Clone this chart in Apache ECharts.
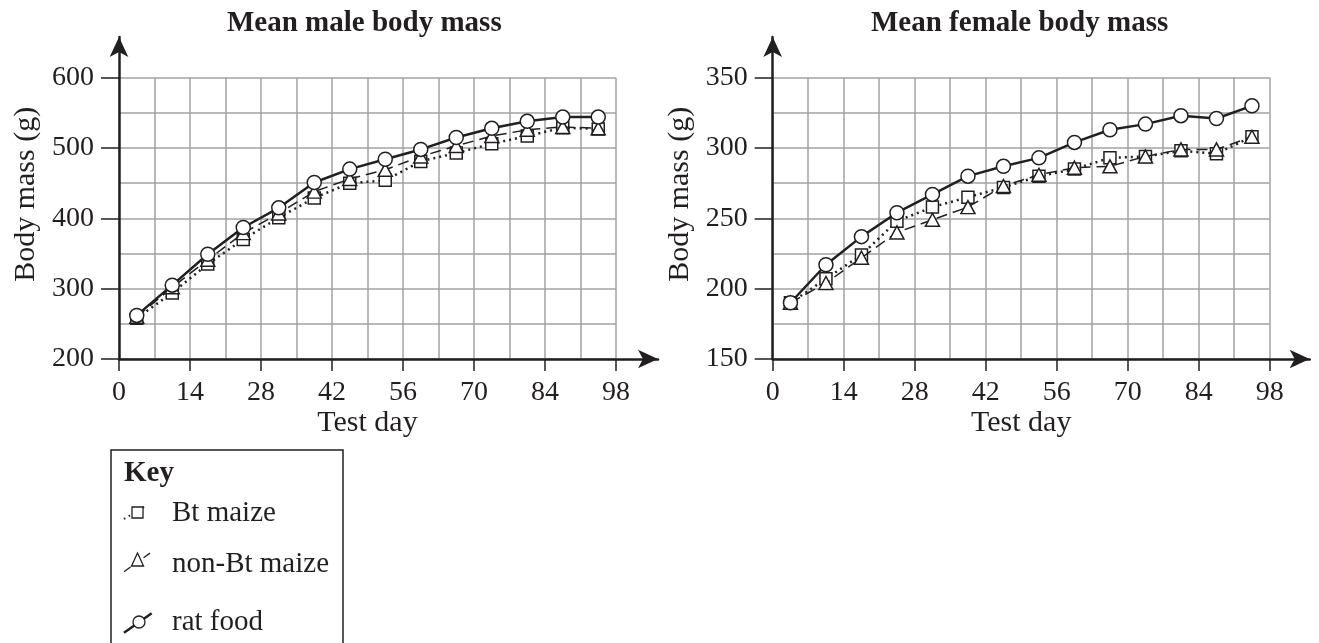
<!DOCTYPE html>
<html>
<head>
<meta charset="utf-8">
<script src="https://cdn.jsdelivr.net/npm/echarts@6/dist/echarts.min.js"></script>
<style>
  html, body { margin: 0; padding: 0; background: #fff; }
  #chart { width: 1319px; height: 643px; }
</style>
</head>
<body>
<div id="chart"></div>
<script>
// test days (x) shared by every series
const days = [3.5, 10.5, 17.5, 24.5, 31.5, 38.5, 45.5, 52.5, 59.5, 66.5, 73.5, 80.5, 87.5, 94.5];

// mean male body mass (g)
const maleBt = [258, 294, 335, 370, 401, 429, 450, 454, 481, 493, 506, 517, 529, 527];
const maleNonBt = [260, 302, 341, 379, 407, 438, 456, 469, 488, 503, 517, 526, 530, 528];
const maleRat = [262, 305, 349, 387, 415, 451, 470, 484, 498, 515, 528, 538, 544, 544];

// mean female body mass (g)
const femaleBt = [190, 207, 224, 248, 258, 265, 272, 280, 285, 293, 294, 298, 296, 308];
const femaleNonBt = [190, 204, 222, 240, 249, 258, 273, 281, 286, 287, 294, 299, 299, 308];
const femaleRat = [190, 217, 237, 254, 267, 280, 287, 293, 304, 313, 317, 323, 321, 330];

// axis ticks
const xTicks = [0, 14, 28, 42, 56, 70, 84, 98];
const maleYTicks = [200, 300, 400, 500, 600];
const femaleYTicks = [150, 200, 250, 300, 350];

const FONT = 'Liberation Serif';
const INK = '#231f20';
const GRAY = '#a3a3a3';

const chart = echarts.init(document.getElementById('chart'));

const gridLine = { show: true, lineStyle: { color: GRAY, width: 1.5 } };

function dataX(gridIndex) {
  return {
    gridIndex,
    type: 'value',
    min: xTicks[0],
    max: xTicks[xTicks.length - 1],
    interval: xTicks[1] - xTicks[0],
    name: 'Test day',
    nameLocation: 'middle',
    nameGap: 47,
    nameTextStyle: { fontFamily: FONT, fontSize: 30, color: INK },
    axisLine: { show: false },
    axisTick: { show: true, length: 12, lineStyle: { color: INK, width: 1.5 } },
    minorTick: { show: false, splitNumber: 2 },
    axisLabel: { fontFamily: FONT, fontSize: 28, color: INK, margin: 20 },
    splitLine: gridLine,
    minorSplitLine: gridLine,
  };
}

function dataY(gridIndex, ticks) {
  return {
    gridIndex,
    type: 'value',
    min: ticks[0],
    max: ticks[ticks.length - 1],
    interval: ticks[1] - ticks[0],
    name: 'Body mass (g)',
    nameLocation: 'middle',
    nameRotate: 90,
    nameGap: 78,
    nameTextStyle: { fontFamily: FONT, fontSize: 30, color: INK, padding: [0, 0, 0, 48] },
    axisLine: { show: false },
    axisTick: { show: true, length: 18, lineStyle: { color: INK, width: 1.5 } },
    minorTick: { show: false, splitNumber: 2 },
    axisLabel: { fontFamily: FONT, fontSize: 28, color: INK, margin: 25 },
    splitLine: gridLine,
    minorSplitLine: gridLine,
  };
}

// bare axis with arrow head, drawn on a slightly larger grid
function arrowAxis(gridIndex) {
  return {
    gridIndex,
    type: 'value',
    min: 0,
    max: 1,
    silent: true,
    axisLine: {
      show: true,
      onZero: false,
      symbol: ['none', 'arrow'],
      symbolSize: [14, 20],
      lineStyle: { color: INK, width: 2.5 },
    },
    axisTick: { show: false },
    axisLabel: { show: false },
    splitLine: { show: false },
  };
}

function pts(values) {
  return values.map((v, i) => [days[i], v]);
}

function lineSeries(axisIndex, values, kind) {
  const base = {
    type: 'line',
    xAxisIndex: axisIndex,
    yAxisIndex: axisIndex,
    data: pts(values),
    animation: false,
    silent: true,
    itemStyle: { color: '#fff', borderColor: INK, borderWidth: 1.5 },
  };
  if (kind === 'bt') {
    return Object.assign(base, {
      z: 2,
      symbol: 'rect',
      symbolSize: 12,
      lineStyle: { color: INK, width: 2.5, type: [2, 4] },
    });
  }
  if (kind === 'nonbt') {
    return Object.assign(base, {
      z: 3,
      symbol: 'triangle',
      symbolSize: [14, 13],
      lineStyle: { color: INK, width: 1.5, type: [11, 6] },
    });
  }
  return Object.assign(base, {
    z: 4,
    symbol: 'circle',
    symbolSize: 14,
    lineStyle: { color: INK, width: 2.5 },
  });
}

const textStyle = { fontFamily: FONT, fontSize: 29, fill: INK };

chart.setOption({
  backgroundColor: '#fff',
  animation: false,
  title: [
    { text: 'Mean male body mass', left: 222, top: 4,
      textStyle: { fontFamily: FONT, fontSize: 29, fontWeight: 'bold', color: INK } },
    { text: 'Mean female body mass', left: 866, top: 4,
      textStyle: { fontFamily: FONT, fontSize: 29, fontWeight: 'bold', color: INK } },
  ],
  grid: [
    { left: 119, top: 77.7, width: 497, height: 281.3 },
    { left: 119, top: 37, width: 539, height: 322 },
    { left: 772.7, top: 77.7, width: 497, height: 281.3 },
    { left: 772.7, top: 37, width: 537, height: 322 },
  ],
  xAxis: [dataX(0), arrowAxis(1), dataX(2), arrowAxis(3)],
  yAxis: [dataY(0, maleYTicks), arrowAxis(1), dataY(2, femaleYTicks), arrowAxis(3)],
  series: [
    lineSeries(0, maleBt, 'bt'),
    lineSeries(0, maleNonBt, 'nonbt'),
    lineSeries(0, maleRat, 'rat'),
    lineSeries(2, femaleBt, 'bt'),
    lineSeries(2, femaleNonBt, 'nonbt'),
    lineSeries(2, femaleRat, 'rat'),
  ],
  // key box
  graphic: [
    { type: 'rect', shape: { x: 111, y: 450, width: 232, height: 240 },
      style: { fill: 'none', stroke: INK, lineWidth: 1.5 } },
    { type: 'text', x: 124, y: 474,
      style: Object.assign({}, textStyle, { text: 'Key', fontWeight: 'bold', verticalAlign: 'middle' }) },

    { type: 'line', shape: { x1: 124, y1: 519, x2: 147, y2: 505 },
      style: { stroke: INK, lineWidth: 2, lineDash: [1.5, 4] } },
    { type: 'rect', shape: { x: 132, y: 507, width: 11, height: 11 },
      style: { fill: '#fff', stroke: INK, lineWidth: 1.3 } },
    { type: 'text', x: 172, y: 513,
      style: Object.assign({}, textStyle, { text: 'Bt maize', verticalAlign: 'middle' }) },

    { type: 'line', shape: { x1: 124, y1: 571.7, x2: 150.7, y2: 552.7 },
      style: { stroke: INK, lineWidth: 1.3, lineDash: [8, 4] } },
    { type: 'polygon', shape: { points: [[137.5, 553], [131.5, 566], [143.5, 566]] },
      style: { fill: '#fff', stroke: INK, lineWidth: 1.3 } },
    { type: 'text', x: 172, y: 564,
      style: Object.assign({}, textStyle, { text: 'non-Bt maize', verticalAlign: 'middle' }) },

    { type: 'line', shape: { x1: 124, y1: 632.7, x2: 151.7, y2: 613.3 },
      style: { stroke: INK, lineWidth: 2.5 } },
    { type: 'circle', shape: { cx: 139, cy: 622, r: 6 },
      style: { fill: '#fff', stroke: INK, lineWidth: 1.3 } },
    { type: 'text', x: 172, y: 622,
      style: Object.assign({}, textStyle, { text: 'rat food', verticalAlign: 'middle' }) },
  ],
});
</script>
</body>
</html>
